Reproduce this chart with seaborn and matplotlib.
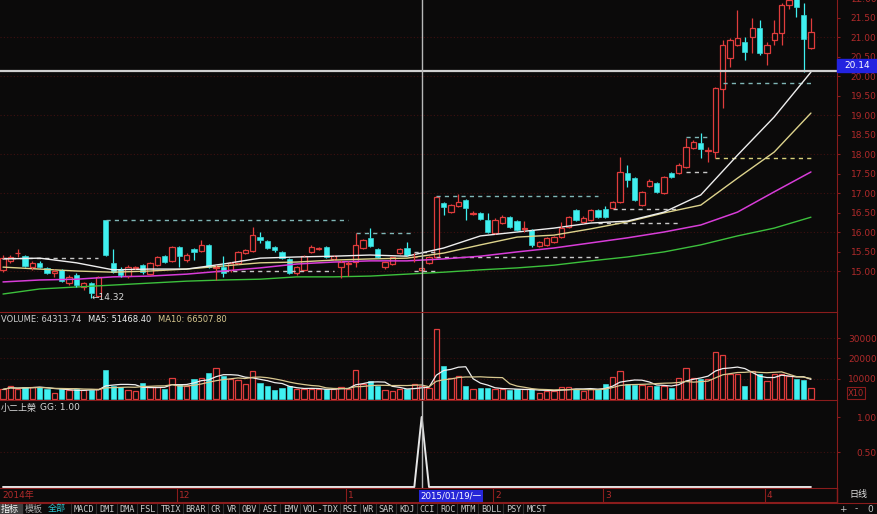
import numpy as np
import pandas as pd
import matplotlib
matplotlib.use("Agg")
import matplotlib.pyplot as plt
from matplotlib.patches import Rectangle
import seaborn as sns

# daily bars 2014/10 .. 2015/04, index 0 = first bar on screen
opens = [15.03, 15.26, 15.45, 15.38, 15.10, 15.21, 15.08, 14.95, 15.03, 14.69,
         14.90, 14.59, 14.69, 14.36, 16.31, 15.21, 15.05, 14.87, 15.08, 15.15,
         14.92, 15.15, 15.38, 15.26, 15.62, 15.28, 15.56, 15.51, 15.67, 15.08,
         15.10, 15.03, 15.21, 15.46, 15.51, 15.87, 15.77, 15.62, 15.49, 15.31,
         14.95, 15.03, 15.49, 15.56, 15.62, 15.31, 15.10, 15.19, 15.23, 15.59,
         15.85, 15.56, 15.10, 15.18, 15.46, 15.59, 15.35, 15.03, 15.21, 15.36,
         16.74, 16.51, 16.67, 16.82, 16.47, 16.49, 16.31, 15.97, 16.23, 16.38,
         16.28, 16.09, 16.05, 15.64, 15.67, 15.74, 15.87, 16.13, 16.56, 16.26,
         16.31, 16.56, 16.59, 16.62, 16.77, 17.51, 17.38, 16.69, 17.18, 17.26,
         17.00, 17.51, 17.51, 17.67, 18.15, 18.28, 18.09, 18.05, 19.67, 20.46,
         20.79, 20.87, 21.00, 21.23, 20.59, 20.92, 21.10, 21.82, 22.00, 21.56,
         20.72]
highs = [15.41, 15.41, 15.56, 15.41, 15.26, 15.26, 15.10, 15.05, 15.05, 14.90,
         14.95, 14.72, 14.72, 14.88, 16.31, 15.56, 15.10, 15.15, 15.13, 15.18,
         15.23, 15.38, 15.41, 15.64, 15.64, 15.46, 15.59, 15.79, 15.69, 15.15,
         15.38, 15.23, 15.51, 15.56, 16.13, 16.00, 15.79, 15.64, 15.51, 15.33,
         15.13, 15.41, 15.67, 15.62, 15.64, 15.41, 15.28, 15.26, 15.97, 15.82,
         16.10, 15.59, 15.26, 15.38, 15.59, 15.74, 15.46, 15.15, 15.38, 16.92,
         16.77, 16.72, 16.97, 16.85, 16.54, 16.51, 16.49, 16.36, 16.44, 16.41,
         16.31, 16.28, 16.08, 15.77, 15.87, 15.90, 16.26, 16.41, 16.59, 16.41,
         16.59, 16.59, 16.67, 16.80, 17.92, 17.72, 17.41, 17.05, 17.36, 17.28,
         17.44, 17.54, 17.77, 18.41, 18.36, 18.54, 18.18, 19.72, 20.92, 20.97,
         21.69, 21.00, 21.49, 21.44, 20.87, 21.44, 21.87, 22.10, 22.15, 21.87,
         21.49]
lows = [14.97, 15.21, 15.36, 15.10, 15.03, 15.08, 14.92, 14.85, 14.72, 14.64,
        14.60, 14.51, 14.32, 14.33, 15.38, 14.95, 14.85, 14.82, 15.05, 14.92,
        14.90, 15.13, 15.21, 15.23, 15.10, 15.23, 15.28, 15.49, 15.08, 14.77,
        14.85, 14.97, 15.18, 15.44, 15.49, 15.72, 15.56, 15.49, 15.31, 14.92,
        14.90, 15.00, 15.46, 15.54, 15.33, 15.28, 14.82, 14.87, 15.10, 15.56,
        15.62, 15.33, 15.05, 15.15, 15.44, 15.38, 15.23, 14.97, 15.18, 15.33,
        16.44, 16.49, 16.64, 16.31, 16.44, 16.31, 15.97, 15.95, 16.21, 16.10,
        16.03, 16.00, 15.62, 15.62, 15.64, 15.72, 15.85, 16.10, 16.28, 16.23,
        16.28, 16.36, 16.36, 16.59, 16.74, 17.15, 16.79, 16.67, 17.15, 17.00,
        16.97, 17.38, 17.49, 17.64, 18.13, 17.90, 17.79, 17.90, 19.18, 20.23,
        20.77, 20.41, 20.59, 20.54, 20.28, 20.79, 20.79, 21.72, 21.51, 20.10,
        20.69]
closes = [15.33, 15.36, 15.47, 15.13, 15.21, 15.10, 14.95, 15.00, 14.74, 14.85,
          14.64, 14.69, 14.44, 14.85, 15.41, 14.97, 14.90, 15.10, 15.10, 14.97,
          15.21, 15.36, 15.23, 15.62, 15.38, 15.41, 15.49, 15.67, 15.10, 15.10,
          14.95, 15.21, 15.49, 15.54, 15.92, 15.79, 15.59, 15.54, 15.33, 14.95,
          15.10, 15.38, 15.62, 15.58, 15.36, 15.38, 15.23, 15.21, 15.67, 15.79,
          15.64, 15.36, 15.23, 15.36, 15.56, 15.41, 15.37, 15.08, 15.36, 16.90,
          16.64, 16.69, 16.77, 16.62, 16.49, 16.33, 16.00, 16.31, 16.38, 16.13,
          16.05, 16.11, 15.67, 15.74, 15.85, 15.87, 16.10, 16.38, 16.31, 16.36,
          16.56, 16.38, 16.38, 16.77, 17.54, 17.33, 16.82, 17.03, 17.31, 17.03,
          17.41, 17.41, 17.72, 18.18, 18.31, 18.13, 18.11, 19.69, 20.79, 20.92,
          20.97, 20.62, 21.23, 20.59, 20.79, 21.10, 21.82, 21.95, 21.77, 20.95,
          21.13]
# volume in lots; the panel plots it divided by 10 ("X10")
volume = [49000, 65000, 52000, 62000, 62000, 62000, 49000, 33000, 49000, 46000,
          49000, 46000, 46000, 49000, 143000, 68000, 62000, 46000, 41000, 81000,
          62000, 62000, 52000, 106000, 78000, 68000, 101000, 106000, 127000, 154000,
          117000, 101000, 94000, 78000, 138000, 81000, 68000, 46000, 57000, 68000,
          49000, 49000, 49000, 52000, 49000, 52000, 62000, 52000, 143000, 78000,
          89000, 68000, 46000, 41000, 52000, 49000, 78000, 64313.74, 57000, 345000,
          163000, 106000, 117000, 68000, 52000, 57000, 57000, 52000, 49000, 46000,
          49000, 49000, 52000, 33000, 41000, 41000, 62000, 62000, 52000, 41000,
          49000, 49000, 78000, 109000, 138000, 78000, 73000, 73000, 65000, 65000,
          68000, 57000, 106000, 156000, 106000, 101000, 101000, 231000, 215000, 122000,
          122000, 65000, 138000, 122000, 89000, 122000, 122000, 117000, 101000, 94000,
          57000]

# moving averages
ma_days = list(range(0, 111, 5))
ma20 = [15.31, 15.33, 15.21, 15.03, 15.05, 15.05, 15.18, 15.33, 15.36, 15.38, 15.41, 15.38,
        15.59, 15.90, 16.00, 16.10, 16.23, 16.28, 16.51, 16.95, 17.97, 18.95, 20.10]
ma30 = [15.10, 15.05, 15.00, 14.97, 15.00, 15.05, 15.13, 15.21, 15.23, 15.28, 15.31, 15.33,
        15.46, 15.67, 15.87, 15.92, 16.08, 16.26, 16.49, 16.69, 17.38, 18.05, 19.05]
ma60 = [14.72, 14.77, 14.79, 14.85, 14.87, 14.92, 15.00, 15.08, 15.18, 15.23, 15.26, 15.26,
        15.31, 15.38, 15.49, 15.59, 15.72, 15.85, 16.00, 16.18, 16.51, 17.03, 17.54]
ma120 = [14.41, 14.54, 14.59, 14.64, 14.69, 14.74, 14.77, 14.79, 14.85, 14.85, 14.87, 14.92,
         14.97, 15.03, 15.08, 15.15, 15.26, 15.36, 15.49, 15.67, 15.90, 16.10, 16.38]

# 小二上榮 signal
gg = [0.0] * 57 + [1.0] + [0.0] * 53

# dashed high / low marks
lvl_price = [15.33, 16.31, 15.00, 15.97, 15.49, 15.00, 16.92, 15.36, 16.23, 16.59, 17.54, 18.44, 17.90, 19.82]
lvl_from = [0, 14, 29, 48, 56, 56, 59, 59, 81, 83, 93, 93, 97, 98]
lvl_to = [13, 47, 45, 56, 59, 59, 81, 81, 92, 92, 96, 96, 110, 110]
lvl_kind = ["lo", "hi", "lo", "hi", "lo", "lo", "hi", "lo", "lo", "lo", "lo", "hi", "mid", "hi"]

month_start = [24, 47, 67, 82, 104]
month_label = ["12", "1", "2", "3", "4"]
cursor_day = 57
cursor_date = "2015/01/19/一"
cursor_price = 20.14

tabs = ["MACD", "DMI", "DMA", "FSL", "TRIX", "BRAR", "CR", "VR", "OBV", "ASI", "EMV",
        "VOL-TDX", "RSI", "WR", "SAR", "KDJ", "CCI", "ROC", "MTM", "BOLL", "PSY", "MCST"]

BG = "#0b0a0a"
RED = "#e03c3c"
CYAN = "#3ff0f0"
AXR = "#8a1c1c"
TXT = "#b02a2a"
GRID = "#3e1010"
W, H = 878, 514

sns.set_style("dark", {"axes.facecolor": BG, "figure.facecolor": BG})
plt.rcParams["font.family"] = ["DejaVu Sans", "Noto Sans CJK SC"]

fig = plt.figure(figsize=(W / 100, H / 100), dpi=100)
fig.patch.set_facecolor(BG)


def px_axes(x0, y0, x1, y1, **kw):
    a = fig.add_axes([x0 / W, 1 - y1 / H, (x1 - x0) / W, (y1 - y0) / H], **kw)
    a.set_facecolor(BG)
    for s in a.spines.values():
        s.set_visible(False)
    return a


def right_ticks(a, vals, fmt):
    a.yaxis.tick_right()
    a.set_yticks(vals)
    a.set_yticklabels([fmt.format(v) for v in vals])
    a.tick_params(axis="y", colors=AXR, labelcolor=TXT, labelsize=6.5,
                  length=2.5, width=0.8, pad=26, direction="out")
    for t in a.get_yticklabels():
        t.set_horizontalalignment("right")
    a.spines["right"].set_visible(True)
    a.spines["right"].set_color(AXR)
    a.tick_params(axis="x", bottom=False, labelbottom=False)


ax = px_axes(0, -3, 837, 312)
axv = px_axes(0, 312, 837, 400, sharex=ax)
axg = px_axes(0, 400, 837, 488, sharex=ax)
axd = px_axes(0, 488, 837, 502, sharex=ax)

idx = np.arange(len(closes))
o, h, l, c = (np.array(v) for v in (opens, highs, lows, closes))
up = c >= o
cols = np.where(up, RED, CYAN)
b_lo, b_hi = np.minimum(o, c), np.maximum(o, c)

# price panel
for v in range(15, 23):
    ax.axhline(v, color=GRID, lw=0.8, ls=(0, (1, 2)), zorder=0)
ax.hlines(lvl_price, lvl_from, lvl_to, lw=1, linestyles=(0, (3, 3)),
          colors=[{"hi": "#7fb6b6", "lo": "#c8c8c8", "mid": "#d8cf7a"}[k] for k in lvl_kind])
sns.lineplot(x=ma_days, y=ma120, ax=ax, color="#3cc03c", lw=1)
sns.lineplot(x=ma_days, y=ma60, ax=ax, color="#d83cd8", lw=1.1)
sns.lineplot(x=ma_days, y=ma30, ax=ax, color="#ddd38c", lw=1)
sns.lineplot(x=ma_days, y=ma20, ax=ax, color="#eeeeee", lw=1)
ax.vlines(idx, b_hi, h, colors=cols, lw=0.9)
ax.vlines(idx, l, b_lo, colors=cols, lw=0.9)
bh = np.maximum(b_hi - b_lo, 0.012)
ax.bar(idx[up], bh[up], bottom=b_lo[up], width=0.72, facecolor=BG, edgecolor=RED, lw=0.9)
ax.bar(idx[~up], bh[~up], bottom=b_lo[~up], width=0.72, color=CYAN, edgecolor=CYAN, lw=0.4)
low_day = int(np.argmin(l))
ax.text(low_day + 0.1, l[low_day], "←" + f"{l[low_day]:.2f}", color="#d8d8d8",
        fontsize=6.5, va="center", ha="left")
ax.axhline(cursor_price, color="#d0d0d0", lw=1.6)
ax.set_xlim(-0.41, 113.55)
ax.set_ylim(13.949, 22.026)
right_ticks(ax, np.arange(15, 22.01, 0.5), "{:.2f}")

# volume panel
vol = np.array(volume) / 10
for v in (10000, 20000, 30000):
    axv.axhline(v, color=GRID, lw=0.8, ls=(0, (1, 2)), zorder=0)
axv.bar(idx[up], vol[up], width=0.72, facecolor=BG, edgecolor=RED, lw=0.9)
axv.bar(idx[~up], vol[~up], width=0.72, color=CYAN, edgecolor=CYAN, lw=0.4)
vs = pd.Series(vol)
sns.lineplot(x=idx, y=vs.rolling(5, min_periods=1).mean().values, ax=axv, color="#eeeeee", lw=0.9)
sns.lineplot(x=idx, y=vs.rolling(10, min_periods=1).mean().values, ax=axv, color="#d8c890", lw=0.9)
axv.set_ylim(-244, 42683)
right_ticks(axv, [10000, 20000, 30000], "{:.0f}")
axv.spines["top"].set_visible(True)
axv.spines["top"].set_color(AXR)

# signal panel
axg.axhline(0.5, color=GRID, lw=0.8, ls=(0, (1, 2)), zorder=0)
sns.lineplot(x=idx, y=gg, ax=axg, color="#e6e6e6", lw=1.4)
axg.set_ylim(-0.0143, 1.243)
right_ticks(axg, [0.5, 1.0], "{:.2f}")
axg.spines["top"].set_visible(True)
axg.spines["top"].set_color(AXR)

for a in (ax, axv, axg):
    a.axvline(cursor_day, color="#b8b8b8", lw=1)
    a.set_xlabel("")
    a.set_ylabel("")

# date row
axd.set_ylim(0, 1)
axd.tick_params(left=False, bottom=False, labelbottom=False, labelleft=False)
for s in ("top", "bottom", "right"):
    axd.spines[s].set_visible(True)
    axd.spines[s].set_color(AXR)
axd.vlines(np.array(month_start) - 0.3, 0, 1, color=AXR, lw=0.8)
axd.text(-0.1, 0.45, "2014年", color=TXT, fontsize=6.5, va="center", ha="left")
for d, t in zip(month_start, month_label):
    axd.text(d, 0.45, t, color=TXT, fontsize=6.5, va="center", ha="left")
axd.text(cursor_day - 0.15, 0.45, cursor_date, color="#ffffff", fontsize=6.2, va="center", ha="left",
         bbox=dict(facecolor="#2626d8", edgecolor="none", pad=1.2))

# overlay: labels, cursor price box, tab bar
ui = px_axes(0, 0, W, H)
ui.set_xlim(0, W)
ui.set_ylim(H, 0)
ui.set_axis_off()
ui.add_patch(Rectangle((837, 59), 41, 13, color="#2323e0"))
ui.text(857, 65.5, f"{cursor_price:.2f}", color="#ffffff", fontsize=6.5, ha="center", va="center")
ui.text(1, 320, "VOLUME: 64313.74", color="#d0d0d0", fontsize=6, va="center")
ui.text(88, 320, "MA5: 51468.40", color="#eeeeee", fontsize=6, va="center")
ui.text(158, 320, "MA10: 66507.80", color="#d8c890", fontsize=6, va="center")
ui.text(848, 393, "X10", color=TXT, fontsize=6, va="center",
        bbox=dict(facecolor="none", edgecolor=AXR, pad=0.8, lw=0.8))
ui.text(1, 408, "小二上榮", color="#d8d8d8", fontsize=6.5, va="center",
        family=["Noto Sans CJK SC", "DejaVu Sans"])
ui.text(40, 408, "GG: 1.00", color="#d8d8d8", fontsize=6.5, va="center")
ui.plot([837, 837], [488, 503], color=AXR, lw=1)
ui.text(858, 495, "日线", color="#e0e0e0", fontsize=6.5, ha="center", va="center",
        family=["Noto Sans CJK SC", "DejaVu Sans"])
ui.plot([0, W], [503, 503], color=AXR, lw=0.8)
ui.add_patch(Rectangle((0, 504), 22, 10, color="#404040"))
ui.text(1, 509, "指标", color="#ffffff", fontsize=6.5, va="center", family=["Noto Sans CJK SC"])
ui.text(25, 509, "模板", color="#b0b0b0", fontsize=6.5, va="center", family=["Noto Sans CJK SC"])
ui.text(48, 509, "全部", color="#2cc0c8", fontsize=6.5, va="center", family=["Noto Sans CJK SC"])
x = 74
for t in tabs:
    ui.plot([x - 3, x - 3], [504, 514], color="#303030", lw=0.8)
    ui.text(x, 509, t, color="#c8c8c8", fontsize=6.1, va="center", family="DejaVu Sans Mono")
    x += 4.8 * len(t) + 6
for xx, t in ((843, "+"), (856, "-"), (870, "0")):
    ui.text(xx, 509, t, color="#c8c8c8", fontsize=6.5, ha="center", va="center")

fig.savefig("out.png", dpi=100, facecolor=BG)
